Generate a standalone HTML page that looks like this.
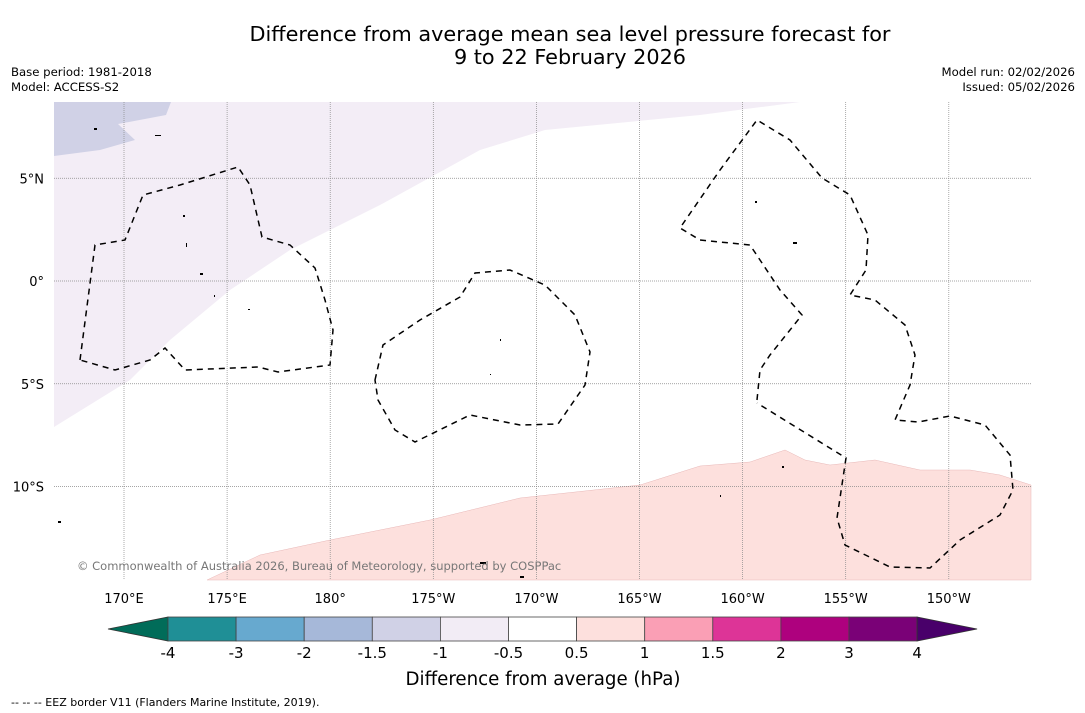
<!DOCTYPE html>
<html><head><meta charset="utf-8"><style>
html,body{margin:0;padding:0;background:#fff;}
svg{display:block;font-family:"DejaVu Sans","Liberation Sans",sans-serif;}
</style></head><body>
<svg id="chart" width="1085" height="713" viewBox="0 0 1085 713">
<text x="570" y="41" font-size="20.8" text-anchor="middle">Difference from average mean sea level pressure forecast for</text>
<text x="570" y="64" font-size="20.8" text-anchor="middle">9 to 22 February 2026</text>
<text x="11" y="76" font-size="11.7">Base period: 1981-2018</text>
<text x="11" y="91" font-size="11.7">Model: ACCESS-S2</text>
<text x="1075" y="76" font-size="11.7" text-anchor="end">Model run: 02/02/2026</text>
<text x="1075" y="91" font-size="11.7" text-anchor="end">Issued: 05/02/2026</text>
<g id="map">
<rect x="54" y="102" width="977" height="478" fill="#fff"/>
<path fill="#f3edf6" d="M54,102 L800,102 L700,115 L545,130 L480,150 L380,205 L290,250 L230,290 L170,340 L130,380 L54,427 Z"/>
<path fill="#d0d1e6" d="M54,102 L171,102 L166,115 L118,124 L135,140 L100,150 L54,156 Z"/>
<path fill="#fde0dd" stroke="#e8b8b8" stroke-width="0.5" d="M207,580 L260,555 L330,540 L430,520 L520,498 L640,485 L700,466 L750,462 L785,450 L805,460 L830,465 L875,460 L920,470 L970,470 L1000,475 L1031,485 L1031,580 Z"/>
<g id="grid"></g>
<g fill="none" stroke="#000" stroke-width="1.5" stroke-dasharray="6,5">
<path d="M80,360 L95,245 L125,240 L143,195 L180,185 L238,167 L250,185 L262,237 L290,245 L315,268 L325,300 L333,330 L330,365 L278,372 L258,367 L185,370 L165,348 L150,360 L115,370 Z"/>
<path d="M375,380 L383,345 L420,320 L460,297 L475,273 L510,270 L545,285 L575,315 L590,352 L585,385 L558,424 L520,425 L470,415 L415,442 L395,430 L378,400 Z"/>
<path d="M757,400 L760,370 L770,355 L802,315 L780,290 L750,245 L700,240 L680,228 L720,170 L757,120 L790,140 L822,178 L850,195 L868,235 L866,270 L850,295 L875,300 L905,325 L915,355 L910,385 L895,420 L918,422 L950,416 L985,425 L1010,455 L1013,490 L1000,515 L960,540 L930,568 L890,567 L845,545 L837,518 L846,458 L757,403"/>
</g>
<g fill="#000">
<rect x="183" y="215" width="2" height="2"/><rect x="186" y="243" width="1" height="4"/><rect x="200" y="273" width="3" height="2"/><rect x="214" y="295" width="1" height="2"/><rect x="248" y="309" width="2" height="1"/><rect x="500" y="339" width="1" height="2"/><rect x="490" y="374" width="1" height="1"/><rect x="755" y="201" width="2" height="2"/><rect x="793" y="242" width="4" height="2"/><rect x="782" y="466" width="2" height="2"/><rect x="720" y="495" width="1" height="2"/><rect x="480" y="562" width="6" height="2"/><rect x="520" y="576" width="4" height="2"/><rect x="58" y="521" width="3" height="2"/><rect x="155" y="135" width="6" height="1"/><rect x="94" y="128" width="3" height="2"/>
</g>
<text x="77" y="570" font-size="11.5" fill="#777">© Commonwealth of Australia 2026, Bureau of Meteorology, supported by COSPPac</text>
</g>
<g id="axes"></g>
<g id="colorbar"></g>
<text x="543" y="685" font-size="18.2" text-anchor="middle">Difference from average (hPa)</text>
<text x="11" y="706" font-size="11">--  --  -- EEZ border V11 (Flanders Marine Institute, 2019).</text>
</svg>
<script>
const lonTicks=[170,175,180,185,190,195,200,205,210];
const lonLabels=["170°E","175°E","180°","175°W","170°W","165°W","160°W","155°W","150°W"];
const latTicks=[5,0,-5,-10];
const latLabels=["5°N","0°","5°S","10°S"];
const levels=["-4","-3","-2","-1.5","-1","-0.5","0.5","1","1.5","2","3","4"];
const colors=["#1f8f96","#67a9cf","#a6b8d9","#d0d1e6","#f2ecf5","#ffffff","#fde0dd","#fa9fb5","#dd3497","#ae017e","#7a0177"];
const lowColor="#016c59", highColor="#49006a";
const NS="http://www.w3.org/2000/svg";
const xLon=l=>124+(l-170)*20.62;
const yLat=l=>281-l*20.55;
function mk(t,a,p){const e=document.createElementNS(NS,t);for(const k in a)e.setAttribute(k,a[k]);p.appendChild(e);return e;}
const grid=document.getElementById('grid'),axes=document.getElementById('axes'),cb=document.getElementById('colorbar');
lonTicks.forEach((l,i)=>{const x=xLon(l);
 const g=mk('line',{x1:x,x2:x,y1:102,y2:580,stroke:'#888','stroke-width':0.7,'stroke-dasharray':'1,1'},grid);
 
 
 const t=mk('text',{x:x,y:603,'font-size':13,'text-anchor':'middle'},axes);t.textContent=lonLabels[i];
 
 });
latTicks.forEach((l,i)=>{const y=yLat(l);
 const g=mk('line',{x1:54,x2:1031,y1:y,y2:y,stroke:'#888','stroke-width':0.7,'stroke-dasharray':'1,1'},grid);
 
 
 const t=mk('text',{x:44,y:y+5,'font-size':13,'text-anchor':'end'},axes);t.textContent=latLabels[i];
 
 });
const x0=168,w=68.1,y0=617,h=24;
const lt=mk('polygon',{points:`108,${y0+h/2} ${x0},${y0} ${x0},${y0+h}`,fill:lowColor,stroke:'#333','stroke-width':0.8},cb);


colors.forEach((c,i)=>{const r=mk('rect',{x:x0+i*w,y:y0,width:w,height:h,fill:c,stroke:'#444','stroke-width':0.8},cb);
 
 });
const xe=x0+colors.length*w;
const ht=mk('polygon',{points:`${xe},${y0} ${xe+60},${y0+h/2} ${xe},${y0+h}`,fill:highColor,stroke:'#333','stroke-width':0.8},cb);


levels.forEach((v,i)=>{const t=mk('text',{x:x0+i*w,y:658,'font-size':15,'text-anchor':'middle'},cb);t.textContent=v;
 
 });
</script>
</body></html>
